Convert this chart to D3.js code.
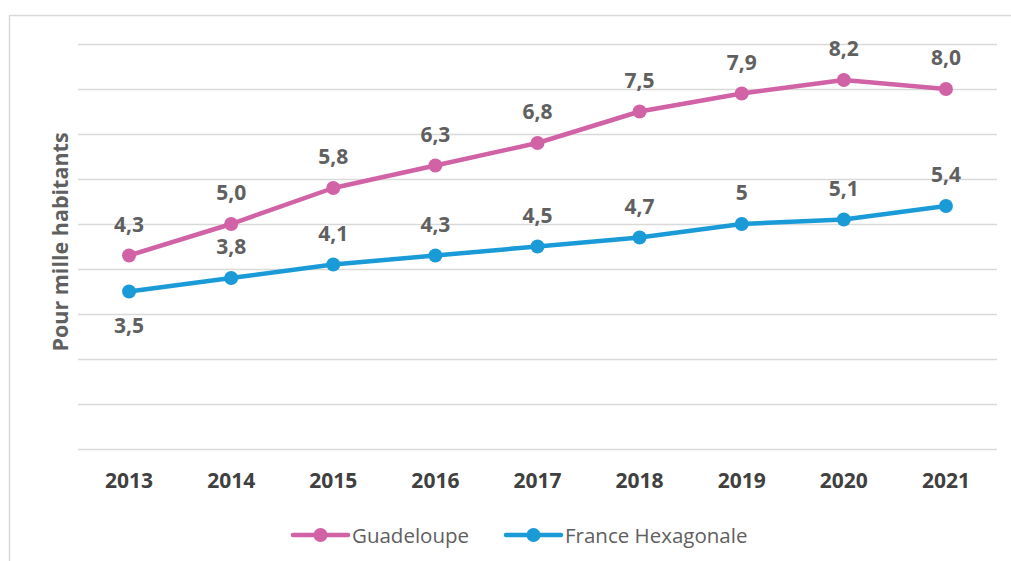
<!DOCTYPE html>
<html>
<head>
<meta charset="utf-8">
<script src="https://cdn.jsdelivr.net/npm/d3@7"></script>
<style>
  body { margin: 0; background: #fff; }
  text { font-family: "Open Sans", "Noto Sans", sans-serif; }
</style>
</head>
<body>
<div id="chart"></div>
<script>
// data
var years = ["2013", "2014", "2015", "2016", "2017", "2018", "2019", "2020", "2021"];
var guadeloupe = [4.3, 5.0, 5.8, 6.3, 6.8, 7.5, 7.9, 8.2, 8.0];
var france = [3.5, 3.8, 4.1, 4.3, 4.5, 4.7, 5, 5.1, 5.4];
var guadeloupeLabels = ["4,3", "5,0", "5,8", "6,3", "6,8", "7,5", "7,9", "8,2", "8,0"];
var franceLabels = ["3,5", "3,8", "4,1", "4,3", "4,5", "4,7", "5", "5,1", "5,4"];
var yTicks = [0, 1, 2, 3, 4, 5, 6, 7, 8, 9];

var series = [
    { name: "Guadeloupe", values: guadeloupe, labels: guadeloupeLabels, color: "#D062A5" },
    { name: "France Hexagonale", values: france, labels: franceLabels, color: "#1A9BD7" }
];

var W = 1011, H = 561;
var svg = d3.select("#chart").append("svg")
    .attr("width", W)
    .attr("height", H);

// outer frame
svg.append("rect")
    .attr("x", 9.5).attr("y", 15.5)
    .attr("width", 1020).attr("height", 560)
    .attr("fill", "none")
    .attr("stroke", "#d9d9d9")
    .attr("stroke-width", 1.5);

var x = d3.scaleBand().domain(years).range([78, 997]);
var y = d3.scaleLinear().domain([0, 9]).range([449, 44]);

// gridlines
svg.append("g")
    .selectAll("line")
    .data(yTicks)
    .enter().append("line")
    .attr("x1", 78).attr("x2", 997)
    .attr("y1", d => Math.round(y(d)) + 0.5)
    .attr("y2", d => Math.round(y(d)) + 0.5)
    .attr("stroke", "#d9d9d9")
    .attr("stroke-width", 1.5);

// x axis labels
var xAxis = svg.append("g")
    .attr("transform", "translate(0,449)")
    .call(d3.axisBottom(x).tickSize(0).tickPadding(39));
xAxis.select(".domain").remove();
xAxis.selectAll("text")
    .attr("dy", 0)
    .style("font-size", "21px")
    .style("font-weight", "bold")
    .style("fill", "#404040");

// y axis title
svg.append("text")
    .attr("transform", "translate(68,242) rotate(-90)")
    .attr("text-anchor", "middle")
    .style("font-size", "21.5px")
    .style("font-weight", "bold")
    .style("fill", "#606060")
    .text("Pour mille habitants");

var line = d3.line()
    .x((d, i) => x(years[i]) + x.bandwidth() / 2)
    .y(d => y(d));

series.forEach(function(s, si) {
    svg.append("path")
        .datum(s.values)
        .attr("d", line)
        .attr("fill", "none")
        .attr("stroke", s.color)
        .attr("stroke-width", 4.5)
        .attr("stroke-linejoin", "round");

    svg.append("g").selectAll("circle")
        .data(s.values)
        .enter().append("circle")
        .attr("cx", (d, i) => x(years[i]) + x.bandwidth() / 2)
        .attr("cy", d => y(d))
        .attr("r", 7)
        .attr("fill", s.color);

    svg.append("g").selectAll("text")
        .data(s.values)
        .enter().append("text")
        .attr("x", (d, i) => x(years[i]) + x.bandwidth() / 2)
        .attr("y", (d, i) => {
            // first France label sits under its point
            if (si == 1 && i == 0) return y(d) + 41;
            return y(d) - 24;
        })
        .attr("text-anchor", "middle")
        .style("font-size", "21px")
        .style("font-weight", "bold")
        .style("fill", "#606060")
        .text((d, i) => s.labels[i]);
});

// legend
var legendX = [293, 506];
var legend = svg.append("g").selectAll("g")
    .data(series)
    .enter().append("g")
    .attr("transform", (d, i) => "translate(" + legendX[i] + ",535)");
legend.append("line")
    .attr("x1", 0).attr("x2", 55)
    .attr("stroke", d => d.color)
    .attr("stroke-width", 4.5)
    .attr("stroke-linecap", "round");
legend.append("circle")
    .attr("cx", 27.5)
    .attr("r", 7)
    .attr("fill", d => d.color);
legend.append("text")
    .attr("x", 59)
    .attr("y", 7.5)
    .style("font-size", "20.5px")
    .style("fill", "#606060")
    .text(d => d.name);
</script>
</body>
</html>
